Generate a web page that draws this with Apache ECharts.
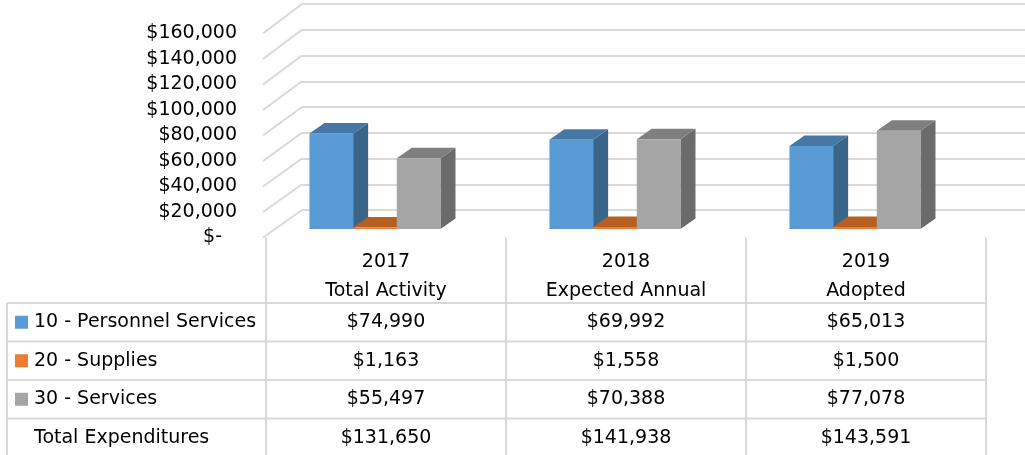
<!DOCTYPE html>
<html>
<head>
<meta charset="utf-8">
<style>
  html, body { margin: 0; padding: 0; background: #fff; }
  #chart { width: 1025px; height: 455px; }
</style>
<script src="https://cdn.jsdelivr.net/npm/echarts@6/dist/echarts.min.js"></script>
</head>
<body>
<div id="chart"></div>
<script>
// data
const categories = ['2017\nTotal Activity', '2018\nExpected Annual', '2019\nAdopted'];
const seriesNames = ['10 - Personnel Services', '20 - Supplies', '30 - Services'];
const personnel = [74990, 69992, 65013];
const supplies = [1163, 1558, 1500];
const services = [55497, 70388, 77078];
const yTicks = [0, 20000, 40000, 60000, 80000, 100000, 120000, 140000, 160000];
const totalLabel = 'Total Expenditures';

const seriesValues = [personnel, supplies, services];
const totals = categories.map((c, i) => personnel[i] + supplies[i] + services[i]);

const FONT = '"DejaVu Sans", sans-serif';
const colors = [
  { front: '#5B9BD5', top: '#4677A5', side: '#3B6489' },
  { front: '#ED7D31', top: '#B55F22', side: '#9E5019' },
  { front: '#A5A5A5', top: '#7F7F7F', side: '#6B6B6B' }
];

// front plane / back wall geometry
const front = { left: 266, right: 39, top: 33.5, height: 204 };
const back = { left: 302, right: 0, top: 4, height: 206 };
const depth = { dx: 11.5, dy: -8.5, bdx: 15, bdy: -10.5 };

const money = v => '$' + v.toLocaleString('en-US');

function barRenderer(si) {
  return function (params, api) {
    const ci = api.value(0);
    const base = api.coord([ci, 0]);
    const top = api.coord([ci, api.value(1)]);
    const band = api.size([1, 0])[0];
    const bw = band * 0.182;
    const x0 = base[0] - band * 0.319 + si * bw;
    const yb = base[1] + depth.dy;
    const yt = top[1] + depth.dy;
    const dx = depth.bdx, dy = depth.bdy;
    const c = colors[si];
    return {
      type: 'group',
      children: [
        { type: 'polygon', shape: { points: [[x0 + bw, yt], [x0 + bw + dx, yt + dy], [x0 + bw + dx, yb + dy], [x0 + bw, yb]] }, style: { fill: c.side } },
        { type: 'polygon', shape: { points: [[x0, yt], [x0 + dx, yt + dy], [x0 + bw + dx, yt + dy], [x0 + bw, yt]] }, style: { fill: c.top } },
        { type: 'rect', shape: { x: x0, y: yt, width: bw, height: Math.max(yb - yt, 0.5) }, style: { fill: c.front } }
      ]
    };
  };
}

const chart = echarts.init(document.getElementById('chart'));

const option = {
  animation: false,
  backgroundColor: '#fff',
  grid: [
    { left: front.left, right: front.right, top: front.top, height: front.height },
    { left: back.left, right: back.right, top: back.top, height: back.height }
  ],
  xAxis: [
    {
      type: 'category', gridIndex: 0, data: categories,
      axisLine: { show: false }, axisTick: { show: false }, splitLine: { show: false },
      axisLabel: { color: '#000', fontFamily: FONT, fontSize: 19, lineHeight: 29, margin: 10 }
    },
    { type: 'category', gridIndex: 1, data: categories, show: false }
  ],
  yAxis: [
    {
      type: 'value', gridIndex: 0, min: 0, max: 160000, interval: 20000,
      axisLine: { show: false }, axisTick: { show: false }, splitLine: { show: false },
      axisLabel: {
        color: '#000', fontFamily: FONT, fontSize: 19, margin: 29,
        formatter: v => v === 0 ? '{z|$-}' : money(v),
        rich: { z: { fontFamily: FONT, fontSize: 19, color: '#000', padding: [0, 15, 0, 0] } }
      }
    },
    {
      type: 'value', gridIndex: 1, min: 0, max: 160000, interval: 20000,
      axisLine: { show: false }, axisTick: { show: false }, axisLabel: { show: false },
      splitLine: { lineStyle: { color: '#D9D9D9', width: 2 } }
    }
  ],
  series: [
    {
      type: 'custom', xAxisIndex: 0, yAxisIndex: 0, silent: true,
      data: yTicks.map(v => [0, v]),
      renderItem: function (params, api) {
        const p = api.coord([0, api.value(1)]);
        const x0 = params.coordSys.x - 3;
        const yb = back.top + (p[1] - front.top) * back.height / front.height;
        return {
          type: 'line',
          shape: { x1: x0, y1: p[1], x2: back.left, y2: yb },
          style: { stroke: '#D9D9D9', lineWidth: 2 }
        };
      }
    }
  ].concat(seriesValues.map((vals, si) => ({
    name: seriesNames[si],
    type: 'custom', xAxisIndex: 0, yAxisIndex: 0,
    data: vals.map((v, i) => [i, v]),
    renderItem: barRenderer(si)
  })))
};

chart.setOption(option);

// data table under the chart
const cx = categories.map((c, i) => chart.convertToPixel({ xAxisIndex: 0 }, i));
const band = cx[1] - cx[0];
const colEdges = [cx[0] - band / 2].concat(cx.map(x => x + band / 2));
const rowTops = [303, 341.5, 380, 418.5];
const rowH = 38.5;
const tableLeft = 7;
const tableBottom = 460;
const headTop = front.top + front.height;
const lineStyle = { stroke: '#D9D9D9', lineWidth: 2 };

const els = [];
colEdges.forEach(x => {
  els.push({ type: 'line', shape: { x1: x, y1: headTop, x2: x, y2: tableBottom }, style: lineStyle, silent: true });
});
els.push({ type: 'line', shape: { x1: tableLeft, y1: rowTops[0], x2: tableLeft, y2: tableBottom }, style: lineStyle, silent: true });
rowTops.forEach(y => {
  els.push({ type: 'line', shape: { x1: tableLeft, y1: y, x2: colEdges[colEdges.length - 1], y2: y }, style: lineStyle, silent: true });
});

const rows = seriesValues.concat([totals]);
const rowLabels = seriesNames.concat([totalLabel]);
rows.forEach((vals, ri) => {
  const cy = rowTops[ri] + rowH / 2;
  if (ri < colors.length) {
    els.push({ type: 'rect', shape: { x: 15, y: cy - 6.5, width: 13, height: 13 }, style: { fill: colors[ri].front }, silent: true });
  }
  els.push({
    type: 'text', x: 34, y: cy, silent: true,
    style: { text: rowLabels[ri], font: '19px ' + FONT, fill: '#000', align: 'left', verticalAlign: 'middle', textAlign: 'left', textVerticalAlign: 'middle' }
  });
  vals.forEach((v, ci) => {
    els.push({
      type: 'text', x: cx[ci], y: cy, silent: true,
      style: { text: money(v), font: '19px ' + FONT, fill: '#000', align: 'center', verticalAlign: 'middle', textAlign: 'center', textVerticalAlign: 'middle' }
    });
  });
});

chart.setOption({ graphic: { elements: els } });
</script>
</body>
</html>
